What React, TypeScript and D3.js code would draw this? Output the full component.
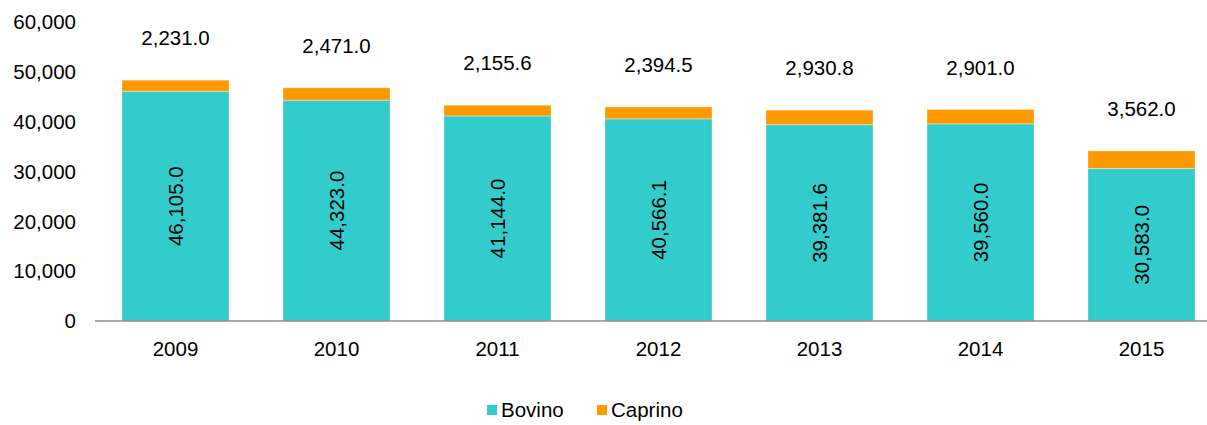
import React, { useEffect, useRef } from 'react';
import * as d3 from 'd3';

const years = ['2009', '2010', '2011', '2012', '2013', '2014', '2015'];
const bovino = [46105.0, 44323.0, 41144.0, 40566.1, 39381.6, 39560.0, 30583.0];
const caprino = [2231.0, 2471.0, 2155.6, 2394.5, 2930.8, 2901.0, 3562.0];
const yTicks = [0, 10000, 20000, 30000, 40000, 50000, 60000];

const seriesNames = ['Bovino', 'Caprino'];
const colors = ['#33CCCC', '#FF9900'];

function App() {
  const svgRef = useRef(null);

  useEffect(() => {
    const width = 1207;
    const height = 425;
    const margin = { top: 22, left: 95, bottom: 104 };
    const plotRight = margin.left + 161 * years.length;

    const svg = d3.select(svgRef.current);
    svg.selectAll('*').remove();
    svg.attr('width', width).attr('height', height);

    const font = 'Liberation Sans, Arial, sans-serif';
    const fs = '20.5px';

    const x = d3.scaleBand().domain(years).range([margin.left, plotRight]).paddingInner(0.335).paddingOuter(0.1675);
    const y = d3.scaleLinear().domain([0, 60000]).range([height - margin.bottom, margin.top]);

    const rows = years.map((yr, i) => ({ year: yr, Bovino: bovino[i], Caprino: caprino[i] }));
    const stacked = d3.stack().keys(seriesNames)(rows);

    // y tick labels
    svg
      .append('g')
      .selectAll('text')
      .data(yTicks)
      .join('text')
      .attr('x', 76)
      .attr('y', (d) => y(d))
      .attr('dy', '0.35em')
      .attr('text-anchor', 'end')
      .style('font-family', font)
      .style('font-size', fs)
      .style('fill', '#000')
      .text((d) => d3.format(',')(d));

    // bars
    stacked.forEach((layer, k) => {
      svg
        .append('g')
        .selectAll('rect')
        .data(layer)
        .join('rect')
        .attr('x', (d) => x(d.data.year))
        .attr('width', x.bandwidth())
        .attr('y', (d) => y(d[1]))
        .attr('height', (d) => y(d[0]) - y(d[1]))
        .style('fill', colors[k])
        .style('stroke', '#ffffff')
        .style('stroke-opacity', 0.5)
        .style('stroke-width', 0.75);
    });

    // x axis line
    svg
      .append('line')
      .attr('x1', margin.left)
      .attr('x2', plotRight)
      .attr('y1', y(0))
      .attr('y2', y(0))
      .style('stroke', '#8c8c8c')
      .style('stroke-width', 1.5);

    // x labels
    svg
      .append('g')
      .selectAll('text')
      .data(years)
      .join('text')
      .attr('x', (d) => x(d) + x.bandwidth() / 2)
      .attr('y', y(0) + 35)
      .attr('text-anchor', 'middle')
      .style('font-family', font)
      .style('font-size', fs)
      .text((d) => d);

    // Bovino labels (rotated)
    svg
      .append('g')
      .selectAll('text')
      .data(stacked[0])
      .join('text')
      .attr('transform', (d) => {
        const cx = x(d.data.year) + x.bandwidth() / 2;
        const cy = (y(d[0]) + y(d[1])) / 2;
        return `translate(${cx},${cy}) rotate(-90)`;
      })
      .attr('dy', '0.35em')
      .attr('text-anchor', 'middle')
      .style('font-family', font)
      .style('font-size', fs)
      .text((d) => d3.format(',.1f')(d.data.Bovino));

    // Caprino labels (above bars)
    svg
      .append('g')
      .selectAll('text')
      .data(stacked[1])
      .join('text')
      .attr('x', (d) => x(d.data.year) + x.bandwidth() / 2)
      .attr('y', (d) => y(d[1]) - 42)
      .attr('dy', '0.35em')
      .attr('text-anchor', 'middle')
      .style('font-family', font)
      .style('font-size', fs)
      .text((d) => d3.format(',.1f')(d.data.Caprino));

    // legend
    const legendX = [487, 597];
    const legend = svg
      .append('g')
      .selectAll('g')
      .data(seriesNames)
      .join('g')
      .attr('transform', (d, i) => `translate(${legendX[i]},405)`);
    legend
      .append('rect')
      .attr('width', 10)
      .attr('height', 10)
      .style('fill', (d, i) => colors[i]);
    legend
      .append('text')
      .attr('x', 14)
      .attr('y', 5)
      .attr('dy', '0.35em')
      .style('font-family', font)
      .style('font-size', fs)
      .text((d) => d);
  }, []);

  return (
    <svg ref={svgRef} style={{ position: 'absolute', left: 0, top: 0, display: 'block' }}></svg>
  );
}

export default App;
